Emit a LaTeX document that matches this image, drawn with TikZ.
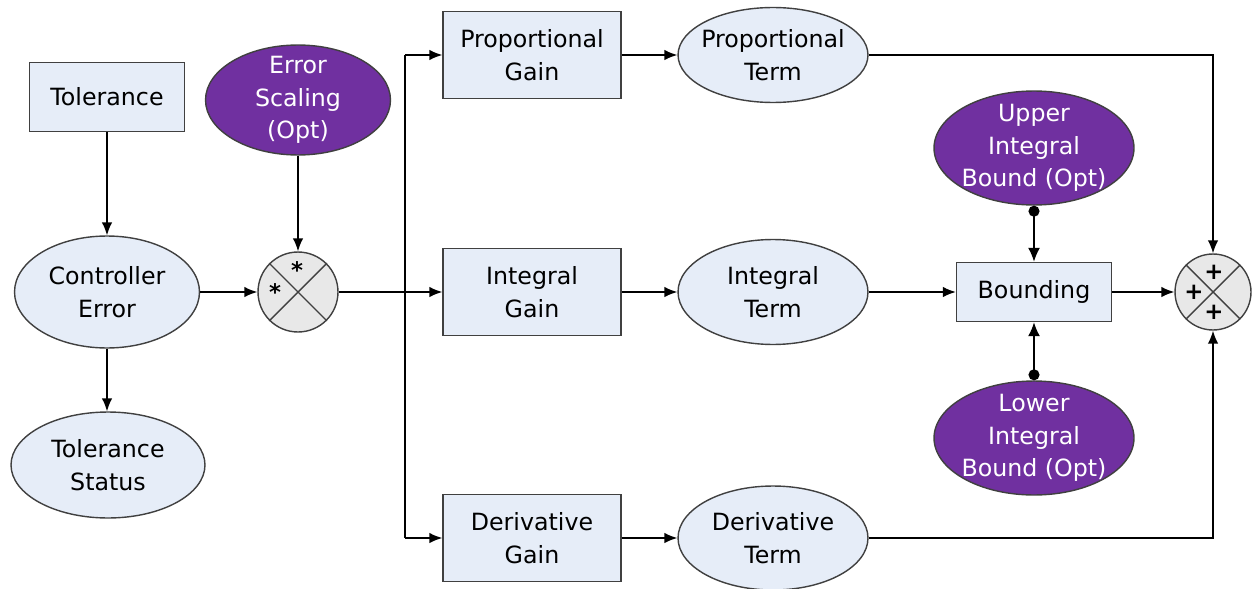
\documentclass[tikz,border=0pt]{standalone}
\usepackage{fontspec}
\setmainfont{DejaVu Sans}
\usetikzlibrary{shapes.geometric,arrows.meta}
\definecolor{boxblue}{RGB}{230,237,248}
\definecolor{optpurple}{RGB}{112,48,160}
\definecolor{sumgray}{RGB}{232,232,232}
\definecolor{edgegray}{RGB}{64,64,64}
\tikzset{
	block/.style={draw=edgegray,line width=0.8pt,fill=boxblue,align=center,minimum width=3.56cm,minimum height=1.74cm,inner sep=0pt,font=\fontsize{13.5}{18.5}\selectfont},
	term/.style={ellipse,draw=edgegray,line width=0.8pt,fill=boxblue,align=center,inner xsep=-4pt,inner ysep=0pt,minimum width=3.8cm,font=\fontsize{13.5}{18.5}\selectfont},
	opt/.style={ellipse,draw=edgegray,line width=0.8pt,fill=optpurple,text=white,align=center,inner xsep=-4pt,inner ysep=-3pt,minimum width=3.7cm,minimum height=2.2cm,font=\fontsize{13.5}{18.5}\selectfont},
	junction/.style={circle,draw=edgegray,line width=0.8pt,fill=sumgray,minimum size=#1,inner sep=0pt},
	sign/.style={inner sep=0pt,font=\fontsize{13}{13}\selectfont\bfseries},
	flow/.style={line width=0.8pt,-{Latex[length=2.6mm,width=2.1mm]}},
	limit/.style={line width=0.9pt,{Circle[length=2.2mm]}-{Latex[length=2.8mm,width=2.4mm]}}
}
\begin{document}
\begin{tikzpicture}[x=0.02cm,y=-0.02cm]
		\useasboundingbox (0,0) rectangle (1253,588);
		\node[block,minimum width=3.1cm,minimum height=1.38cm] (tol) at (107,97) {Tolerance};
		\node[term,minimum width=3.7cm,minimum height=2.24cm] (err) at (107,292) {Controller\\Error};
		\node[term,minimum width=3.88cm,minimum height=2.12cm] (stat) at (108,465) {Tolerance\\Status};
		\node[opt] (scale) at (298,100) {Error\\Scaling\\(Opt)};
		\node[junction=1.6cm] (mult) at (298,292) {};
		\draw[edgegray,line width=0.8pt] (mult.45) -- (mult.225) (mult.135) -- (mult.315);
		\node[sign] (mtop) at (297,270) {*};
		\node[sign] (mleft) at (275,292) {*};
		\node[block] (pgain) at (532,55) {Proportional\\Gain};
		\node[term,minimum height=1.9cm] (pterm) at (773,55) {Proportional\\Term};
		\node[block] (igain) at (532,292) {Integral\\Gain};
		\node[term,minimum height=2.1cm] (iterm) at (773,292) {Integral\\Term};
		\node[block] (dgain) at (532,538) {Derivative\\Gain};
		\node[term,minimum height=2.08cm] (dterm) at (773,538) {Derivative\\Term};
		\node[block,minimum width=3.1cm,minimum height=1.18cm] (bound) at (1034,292) {Bounding};
		\node[opt,minimum width=4cm,minimum height=2.28cm] (upper) at (1034,148) {Upper\\Integral\\Bound (Opt)};
		\node[opt,minimum width=4cm,minimum height=2.28cm] (lower) at (1034,438) {Lower\\Integral\\Bound (Opt)};
		\node[junction=1.52cm] (sum) at (1213,292) {};
		\draw[edgegray,line width=0.8pt] (sum.45) -- (sum.225) (sum.135) -- (sum.315);
		\node[sign] (stop) at (1214,272) {+};
		\node[sign] (sleft) at (1194,292) {+};
		\node[sign] (sbot) at (1214,312) {+};
		\coordinate (split) at (405,292);
		\coordinate (ptop) at (405,55);
		\coordinate (pbot) at (405,538);
		\draw[flow] (tol) -- (err);
		\draw[flow] (err.south) -- (err.south |- stat.north);
		\draw[flow] (scale) -- (mult);
		\draw[flow] (err) -- (mult);
		\draw[line width=0.8pt] (mult) -- (split);
		\draw[line width=0.8pt] (ptop) -- (pbot);
		\draw[flow] (split) -- (igain);
		\draw[flow] (ptop) -- (pgain);
		\draw[flow] (pbot) -- (dgain);
		\draw[flow] (pgain) -- (pterm);
		\draw[flow] (igain) -- (iterm);
		\draw[flow] (dgain) -- (dterm);
		\draw[flow] (iterm) -- (bound);
		\draw[limit] (upper.south) -- (bound.north);
		\draw[limit] (lower.north) -- (bound.south);
		\draw[flow] (bound) -- (sum);
		\draw[flow] (pterm.east) -| (sum.north);
		\draw[flow] (dterm.east) -| (sum.south);
		\end{tikzpicture}
\end{document}
